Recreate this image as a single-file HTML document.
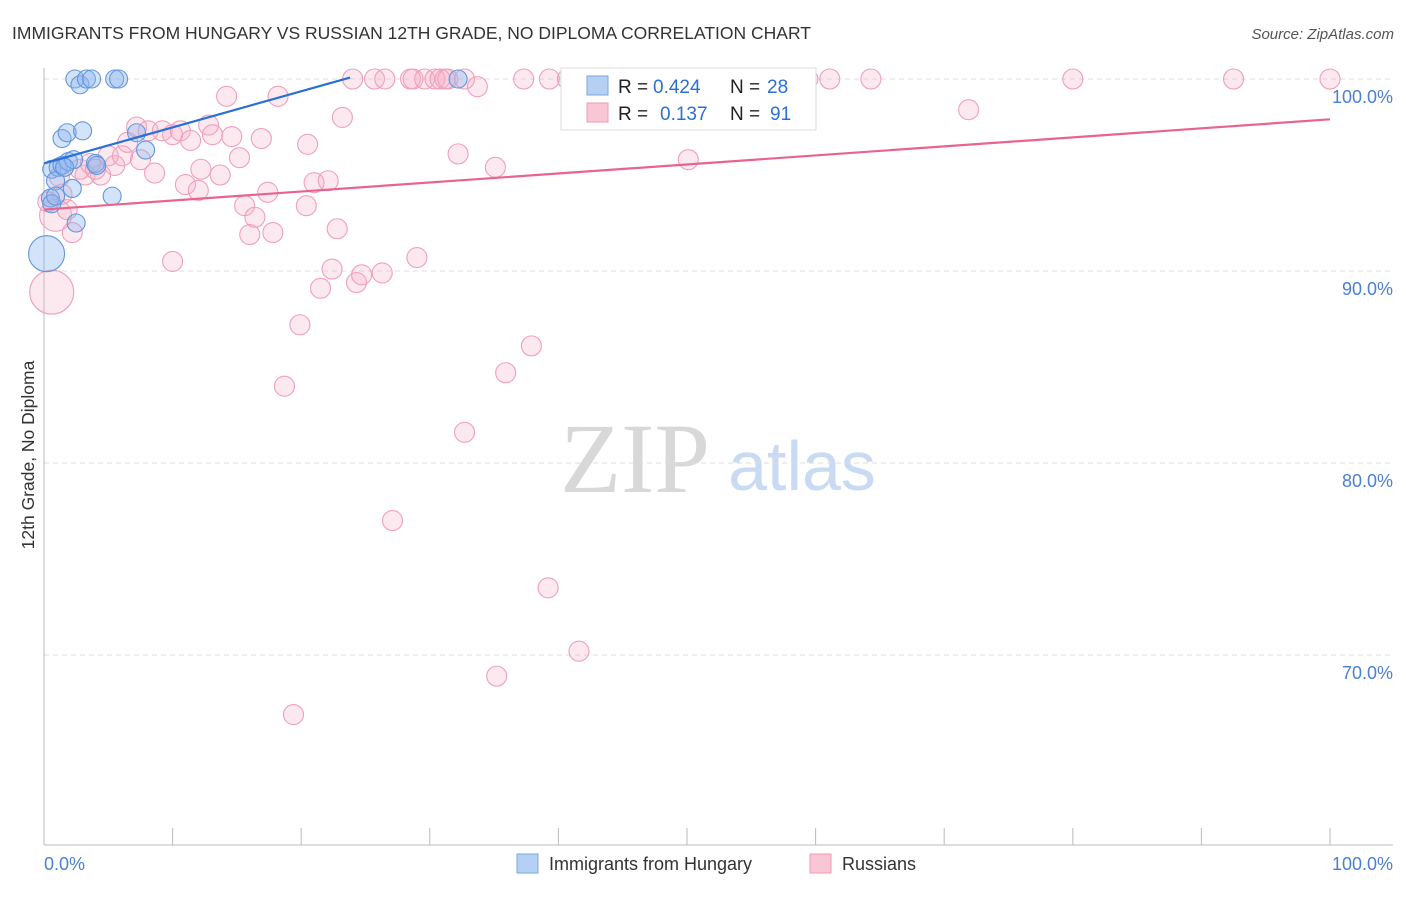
<!DOCTYPE html>
<html><head><meta charset="utf-8"><style>
body{margin:0;background:#fff;font-family:"Liberation Sans",sans-serif;}
svg text{font-family:"Liberation Sans",sans-serif;}
</style></head><body>
<svg id="c" width="1406" height="892">
<text x="12" y="39" font-size="17.5" fill="#333">IMMIGRANTS FROM HUNGARY VS RUSSIAN 12TH GRADE, NO DIPLOMA CORRELATION CHART</text>
<text x="1394" y="39" font-size="15" fill="#555" font-style="italic" text-anchor="end">Source: ZipAtlas.com</text>
<text transform="translate(34,455) rotate(-90)" font-size="17.5" fill="#333" text-anchor="middle">12th Grade, No Diploma</text>
<g><text x="635" y="492" font-size="100" fill="#d8d8d8" style="font-family:'Liberation Serif',serif" text-anchor="middle">ZIP</text><text x="802" y="490" font-size="70" fill="#c8dbf3" text-anchor="middle">atlas</text></g>
<g id="grid"></g><g id="pts"></g><g id="lines"></g>
<g>
<rect x="561" y="68" width="255" height="62" fill="#fff" stroke="#ddd"/>
<rect x="587" y="76" width="21" height="19" fill="#b6d0f3" stroke="#7aa6e0"/>
<rect x="587" y="103" width="21" height="19" fill="#f9c6d6" stroke="#ee9ab6"/>
<text y="93" font-size="19" fill="#222"><tspan x="618">R =</tspan><tspan x="653" fill="#2a6fd6">0.424</tspan><tspan x="730">N =</tspan><tspan x="767" fill="#2a6fd6">28</tspan></text>
<text y="120" font-size="19" fill="#222"><tspan x="618">R =</tspan><tspan x="660" fill="#2a6fd6">0.137</tspan><tspan x="730">N =</tspan><tspan x="770" fill="#2a6fd6">91</tspan></text>
</g>
<g>
<rect x="517" y="854" width="21" height="19" fill="#b6d0f3" stroke="#7aa6e0"/>
<text x="549" y="870" font-size="18" fill="#333">Immigrants from Hungary</text>
<rect x="810" y="854" width="21" height="19" fill="#f9c6d6" stroke="#ee9ab6"/>
<text x="842" y="870" font-size="18" fill="#333">Russians</text>
</g>
</svg>
<script>
const yTicks=[100,90,80,70];
const xTickLabels=["0.0%","100.0%"];
const blueX=[2.4,2.8,3.3,3.7,5.5,5.8,1.4,1.8,3.0,0.6,1.1,1.4,1.9,2.3,4.0,4.1,0.9,2.2,0.5,0.6,5.3,2.5,0.2,7.2,7.9,32.2,0.9,1.6];
const blueY=[100,99.7,100,100,100,100,96.9,97.2,97.3,95.3,95.4,95.5,95.7,95.8,95.6,95.5,94.7,94.3,93.8,93.5,93.9,92.5,90.9,97.2,96.3,100,93.9,95.4];
const pinkX=[0.6,0.9,2.2,1.8,1.4,3.2,2.8,4.4,5.5,5.0,6.1,6.5,7.2,7.5,8.1,8.6,9.2,10.0,10.6,11.0,11.4,12.0,12.2,12.8,13.1,13.7,14.2,14.6,15.2,15.6,16.4,16.0,16.9,17.4,17.8,18.2,10.0,18.7,19.4,19.9,20.4,20.5,21.0,21.5,22.1,22.4,22.8,23.2,24.0,24.3,24.7,25.7,26.3,26.5,27.1,28.5,28.7,29.0,29.6,30.4,30.8,31.2,31.4,32.2,32.7,32.7,33.7,35.1,35.9,37.3,37.9,39.2,39.3,40.7,41.6,35.2,46.8,50.1,52.8,51.6,59.4,61.1,64.3,71.9,80.0,92.5,100,0.3,1.2,3.6,4.0];
const pinkY=[88.9,92.9,92.0,93.2,94.0,95.0,95.3,95.0,95.5,96.0,96.0,96.7,97.5,95.8,97.3,95.1,97.3,97.1,97.3,94.5,96.8,94.2,95.3,97.6,97.1,95.0,99.1,97.0,95.9,93.4,92.8,91.9,96.9,94.1,92.0,99.1,90.5,84.0,66.9,87.2,93.4,96.6,94.6,89.1,94.7,90.1,92.2,98.0,100,89.4,89.8,100,89.9,100,77.0,100,100,90.7,100,100,100,100,100,96.1,81.6,100,99.6,95.4,84.7,100,86.1,73.5,100,100,70.2,68.9,100,95.8,100,100,100,100,100,98.4,100,100,100,93.6,94.9,95.6,95.3];
const pinkBig=[22,16];
const blueTrend=[95.6,0.188,0,23.8];
const pinkTrend=[93.2,0.047,0,100];
const sx=v=>44+v*12.86, sy=v=>79+(100-v)*19.2;
const NS="http://www.w3.org/2000/svg";
function mk(t,a,p){const e=document.createElementNS(NS,t);for(const k in a)e.setAttribute(k,a[k]);p.appendChild(e);return e;}
const g=document.getElementById('grid'),P=document.getElementById('pts'),L=document.getElementById('lines');
yTicks.forEach(t=>{
 const l=mk('line',{x1:44,x2:1393,y1:sy(t),y2:sy(t),stroke:'#ddd','stroke-dasharray':'5,4'},g);
 
 
 const tx=mk('text',{x:1393,y:sy(t)+24,'font-size':18,fill:'#4a80d4','text-anchor':'end'},g);
 tx.textContent=t.toFixed(1)+'%';
 
 
});
const ax=mk('line',{x1:44,x2:44,y1:68,y2:845,stroke:'#bbb'},g);


const bx=mk('line',{x1:44,x2:1393,y1:845,y2:845,stroke:'#bbb'},g);


for(let i=0;i<=10;i++){const t=mk('line',{x1:sx(i*10),x2:sx(i*10),y1:828,y2:845,stroke:'#bbb'},g);
 
 }
[[0,'start',44],[1,'end',1393]].forEach(([i,a,x])=>{const t=mk('text',{x:x,y:870,'font-size':18,fill:'#4a80d4','text-anchor':a},g);t.textContent=xTickLabels[i];
 
 });
pinkX.forEach((x,i)=>{const c=mk('circle',{cx:sx(x),cy:sy(pinkY[i]),r:pinkBig[i]||10,fill:'rgba(246,175,200,0.28)',stroke:'#ef9fba','stroke-width':1.1},P);
 
 });
blueX.forEach((x,i)=>{const c=mk('circle',{cx:sx(x),cy:sy(blueY[i]),r:i==22?18:9,fill:'rgba(140,182,238,0.38)',stroke:'#6297dd','stroke-width':1.1},P);
 
 });
[[blueTrend,'#2a6fd6','hungary-trendline'],[pinkTrend,'#e8648f','russian-trendline']].forEach(([t,c,n])=>{
 const l=mk('line',{x1:sx(t[2]),y1:sy(t[0]+t[1]*t[2]),x2:sx(t[3]),y2:sy(t[0]+t[1]*t[3]),stroke:c,'stroke-width':2.2},L);
 
 });
</script>
</body></html>
